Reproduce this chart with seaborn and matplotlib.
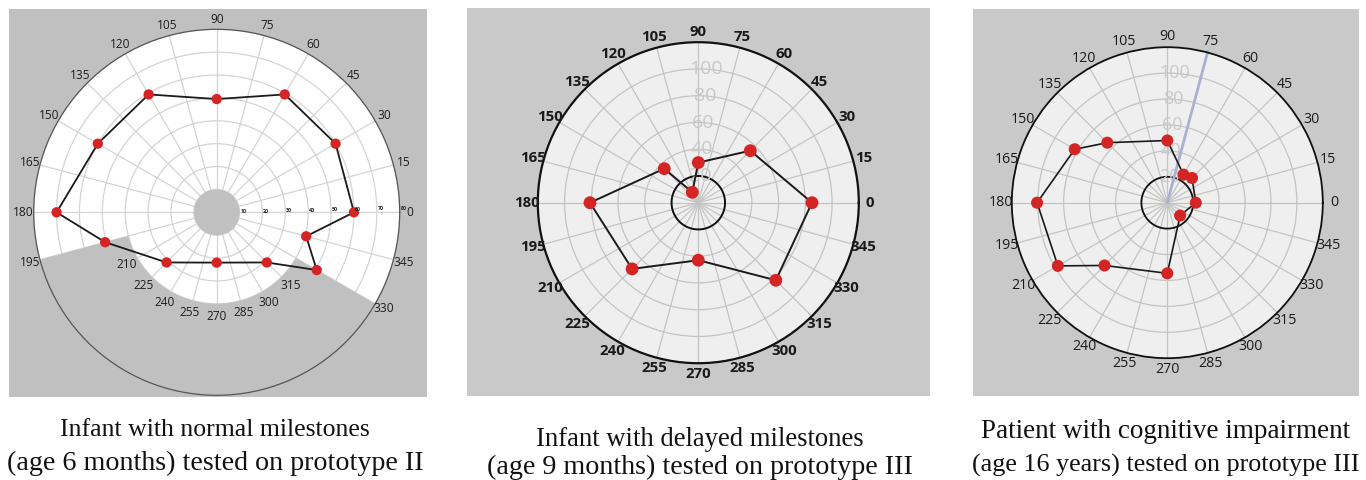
import numpy as np
import matplotlib
matplotlib.use("Agg")
import matplotlib.pyplot as plt
import seaborn as sns

sns.set_theme(style="white")
plt.rcParams["font.family"] = ["Open Sans", "DejaVu Sans"]

W, H = 1366, 480

# ---------------- data ----------------
angle_ticks = list(range(0, 360, 15))

p1_angles = [0, 30, 60, 90, 120, 150, 180, 195, 225, 270, 315, 330, 345]
p1_values = [60, 60, 59.5, 49.5, 59.5, 60, 70, 50.5, 31, 22, 31, 50.5, 40.5]
p1_rticks = [10, 20, 30, 40, 50, 60, 70, 80]
p1_blind_start, p1_blind_end, p1_blind_r = 195, 330, 40
p1_hole_r = 10

p2_angles = [0, 45, 90, 120, 135, 180, 225, 270, 315]
p2_values = [85, 55, 30, 9, 36, 81, 70, 43, 82]

p3_angles = [0, 45, 60, 90, 135, 150, 180, 210, 225, 270, 315]
p3_values = [22, 27, 25, 48, 65.5, 82.5, 100.5, 97.5, 68.5, 54.5, 14]
p3_pointer_angle = 75

p23_rings = [20, 40, 60, 80, 100, 120]
p23_rlabels = [20, 40, 60, 80, 100]
p23_inner_r = 20

captions = [
    ("Infant with normal milestones", "(age 6 months) tested on prototype II"),
    ("Infant with delayed milestones", "(age 9 months) tested on prototype III"),
    ("Patient with cognitive impairment", "(age 16 years) tested on prototype III"),
]

RED = "#d42424"

fig = plt.figure(figsize=(W / 100, H / 100), dpi=100)
fig.patch.set_facecolor("white")


def bg_panel(x0, y0, x1, y1, color):
    ax = fig.add_axes([x0 / W, (H - y1) / H, (x1 - x0) / W, (y1 - y0) / H])
    ax.set_facecolor(color)
    ax.set_xticks([]); ax.set_yticks([])
    for s in ax.spines.values():
        s.set_visible(False)
    return ax


def polar_panel(cx, cy, R, face, rmax, rings, grid_color, spine_color, spine_lw):
    ax = fig.add_axes([(cx - R) / W, (H - cy - R) / H, 2 * R / W, 2 * R / H],
                      projection="polar")
    ax.set_facecolor(face)
    ax.set_axisbelow(True)
    ax.set_xticks(np.deg2rad(angle_ticks))
    ax.set_xticklabels([])
    ax.set_yticks(rings)
    ax.set_yticklabels([])
    ax.grid(True, color=grid_color, lw=0.9)
    ax.spines["polar"].set_color(spine_color)
    ax.spines["polar"].set_linewidth(spine_lw)
    ax.tick_params(length=0)
    return ax


def draw_series(ax, angles, values, msize, lw):
    th = np.deg2rad(np.append(angles, angles[0] + 360))
    rv = np.append(values, values[0])
    sns.lineplot(x=th, y=rv, ax=ax, sort=False, estimator=None,
                 color="#1a1a1a", lw=lw, zorder=3)
    sns.scatterplot(x=np.deg2rad(angles), y=values, ax=ax, color=RED,
                    s=msize, edgecolor="none", zorder=4)
    ax.set_xlabel(""); ax.set_ylabel("")


# ---------------- panel 1 ----------------
bg_panel(9, 9, 427, 397, "#c0c0c0")
ax1 = polar_panel(216.7, 212.3, 183, "white", 80, p1_rticks, "#d4d4d4", "#555555", 0.9)
ax1.bar(np.deg2rad((p1_blind_start + p1_blind_end) / 2), 80 - p1_blind_r,
        width=np.deg2rad(p1_blind_end - p1_blind_start), bottom=p1_blind_r,
        color="#c0c0c0", lw=0, zorder=1.6)
ax1.bar(0, p1_hole_r, width=2 * np.pi, bottom=0, color="#c0c0c0", lw=0, zorder=1.6)
draw_series(ax1, p1_angles, p1_values, 55, 1.3)
ax1.set_ylim(0, 80)
for t in angle_ticks:
    inner = p1_blind_start < t < p1_blind_end
    r = 45.5 if inner else 84.5
    ax1.text(np.deg2rad(t), r, str(t), ha="center", va="center",
             fontsize=8.6, color="#1e1e1e", zorder=5)
for v in p1_rticks:
    ax1.text(np.deg2rad(1.2), v + 1.6, str(v), ha="center", va="center",
             fontsize=3.8, fontweight="bold", color="#222222", zorder=5)

# ---------------- panel 2 ----------------
bg_panel(467, 8, 930, 396, "#c9c9c9")
ax2 = polar_panel(698.3, 202.7, 160.5, "#efefef", 120, p23_rings, "#c4c4c4", "#111111", 1.6)
th_full = np.linspace(0, 2 * np.pi, 200)
ax2.plot(th_full, np.full_like(th_full, p23_inner_r), color="#111111", lw=1.4, zorder=2)
for v in p23_rlabels:
    ax2.text(np.deg2rad(86.5), v, str(v), ha="center", va="center",
             fontsize=14, color="#c8c8c8", zorder=2)
draw_series(ax2, p2_angles, p2_values, 85, 1.4)
ax2.set_ylim(0, 120)
for t in angle_ticks:
    ax2.text(np.deg2rad(t), 128, str(t), ha="center", va="center",
             fontsize=10.8, fontweight="bold", color="#1a1a1a")

# ---------------- panel 3 ----------------
bg_panel(973, 9, 1359, 396, "#c9c9c9")
ax3 = polar_panel(1167.3, 202.7, 155.5, "#efefef", 120, p23_rings, "#c4c4c4", "#111111", 1.3)
ax3.plot(th_full, np.full_like(th_full, p23_inner_r), color="#111111", lw=1.3, zorder=2)
for v in p23_rlabels:
    ax3.text(np.deg2rad(86.5), v, str(v), ha="center", va="center",
             fontsize=13, color="#c8c8c8", zorder=2)
ax3.plot(np.deg2rad([p3_pointer_angle, p3_pointer_angle]), [0, 121],
         color="#aab0d2", lw=2.0, zorder=2.2, clip_on=False)
draw_series(ax3, p3_angles, p3_values, 75, 1.2)
ax3.set_ylim(0, 120)
for t in angle_ticks:
    ax3.text(np.deg2rad(t), 128.5, str(t), ha="center", va="center",
             fontsize=10.2, color="#1a1a1a")

# ---------------- captions ----------------
cap_x = [215, 700, 1166]
cap_y = [(430, 463), (439, 467), (432, 465)]
cap_sizes = [(18.5, 20.2), (19.2, 20.2), (19.5, 18.8)]
for (l1, l2), x, (y1, y2), (s1, s2) in zip(captions, cap_x, cap_y, cap_sizes):
    fig.text(x / W, (H - y1) / H, l1, ha="center", va="center",
             family="Liberation Serif", fontsize=s1, color="#111111")
    fig.text(x / W, (H - y2) / H, l2, ha="center", va="center",
             family="Liberation Serif", fontsize=s2, color="#111111")

fig.savefig("out.png", dpi=100)
